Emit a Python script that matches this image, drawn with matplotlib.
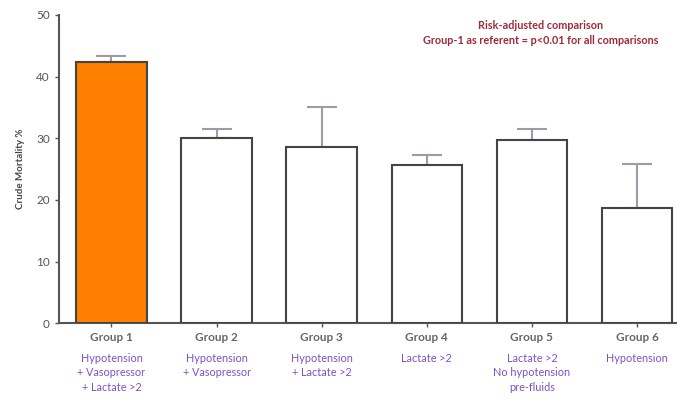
import matplotlib
matplotlib.use("Agg")
import matplotlib.pyplot as plt
import numpy as np

groups = ["Group 1", "Group 2", "Group 3", "Group 4", "Group 5", "Group 6"]
descriptions = [
    "Hypotension\n+ Vasopressor\n+ Lactate >2",
    "Hypotension\n+ Vasopressor",
    "Hypotension\n+ Lactate >2",
    "Lactate >2",
    "Lactate >2\nNo hypotension\npre-fluids",
    "Hypotension",
]
mortality = [42.4, 30.0, 28.6, 25.6, 29.7, 18.7]
upper_err = [0.9, 1.5, 6.5, 1.7, 1.8, 7.1]
bar_colors = ["#ff8000", "white", "white", "white", "white", "white"]

plt.rcParams["font.family"] = ["Lato", "DejaVu Sans"]

fig = plt.figure(figsize=(6.77, 4.03), dpi=100)
ax = fig.add_axes([0.087, 0.198, 0.913, 0.765])

x = np.arange(len(groups))
ax.bar(x, mortality, width=0.67, color=bar_colors, edgecolor="#444444",
       linewidth=1.5, zorder=3)
ax.errorbar(x, mortality, yerr=[np.zeros(len(x)), upper_err], fmt="none",
            ecolor="#a09aa6", elinewidth=1.5, capsize=11, capthick=1.5, zorder=2)

ax.set_xlim(-0.5, 5.38)
ax.set_ylim(0, 50)
ax.set_yticks([0, 10, 20, 30, 40, 50])
ax.tick_params(axis="y", labelsize=8.5, colors="#555555", length=3, width=1)
ax.set_xticks(x)
ax.set_xticklabels([])
ax.tick_params(axis="x", length=3, width=1, color="#555555")

for s in ["top", "right"]:
    ax.spines[s].set_visible(False)
for s in ["left", "bottom"]:
    ax.spines[s].set_color("#555555")
    ax.spines[s].set_linewidth(1.5)

ax.set_ylabel("Crude Mortality %", fontsize=7, color="#444444", fontweight="bold",
              labelpad=8)

for xi, g, d in zip(x, groups, descriptions):
    ax.text(xi, -1.4, g, ha="center", va="top", fontsize=8.5, fontweight="bold",
            color="#666666", clip_on=False)
    ax.text(xi, -4.8, d, ha="center", va="top", fontsize=7.8, color="#7b52c8",
            linespacing=1.4, clip_on=False)

ax.text(0.78, 0.985, "Risk-adjusted comparison\nGroup-1 as referent = p<0.01 for all comparisons",
        transform=ax.transAxes, ha="center", va="top", fontsize=7.8,
        fontweight="bold", color="#9e2a3c", linespacing=1.45)

fig.savefig("out.png", dpi=100)
